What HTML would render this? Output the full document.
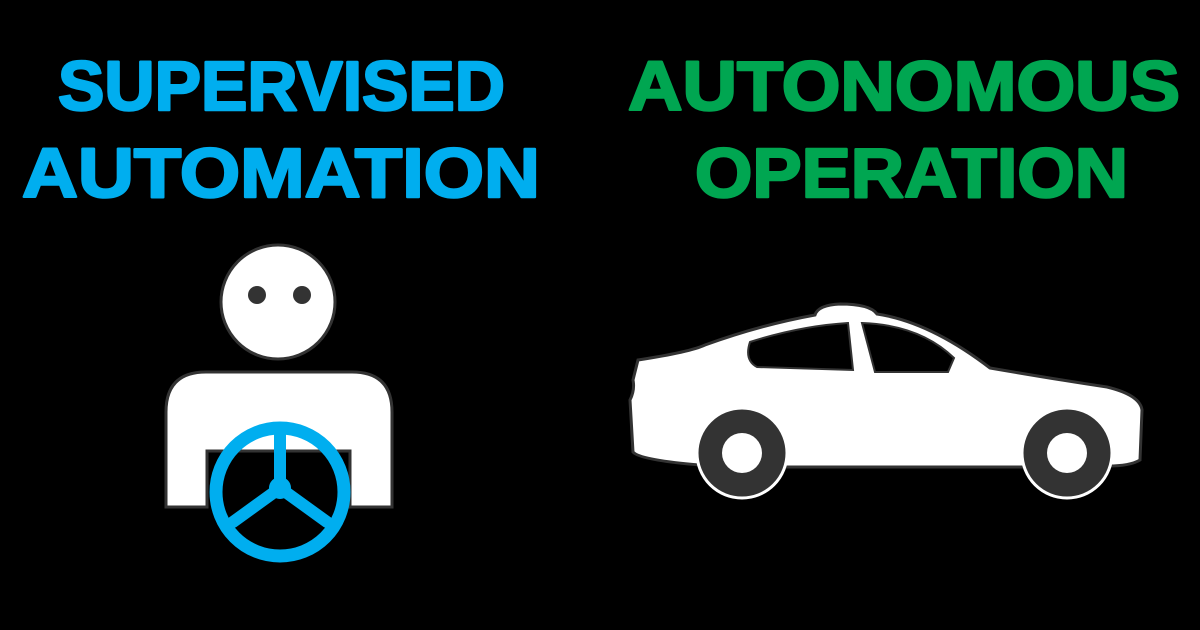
<!DOCTYPE html>
<html><head><style>html,body{margin:0;padding:0;background:#000;}svg{display:block}</style></head>
<body>
<svg width="1200" height="630" viewBox="0 0 1200 630" xmlns="http://www.w3.org/2000/svg">
<rect width="1200" height="630" fill="#000"/>
<g font-family="Liberation Sans, sans-serif" font-weight="bold" font-size="70" stroke-width="2.5" stroke-linejoin="round">
<text x="58" y="110" textLength="447" lengthAdjust="spacingAndGlyphs" fill="#00aeef" stroke="#00aeef">SUPERVISED</text>
<text x="22" y="197" textLength="518" lengthAdjust="spacingAndGlyphs" fill="#00aeef" stroke="#00aeef">AUTOMATION</text>
<text x="628" y="110" textLength="552" lengthAdjust="spacingAndGlyphs" fill="#00a651" stroke="#00a651">AUTONOMOUS</text>
<text x="695" y="197" textLength="433" lengthAdjust="spacingAndGlyphs" fill="#00a651" stroke="#00a651">OPERATION</text>
</g>
<!-- person -->
<circle cx="278" cy="302" r="57" fill="#fff" stroke="#333" stroke-width="3"/>
<circle cx="257" cy="295" r="9" fill="#333"/>
<circle cx="302" cy="295" r="9" fill="#333"/>
<path d="M166 507 V412 Q166 372 206 372 H352 Q392 372 392 412 V507 H350 V451 H207 V507 Z" fill="#fff" stroke="#333" stroke-width="3"/>
<g stroke="#00aeef" fill="none" stroke-linecap="round">
<circle cx="280" cy="492" r="64" stroke-width="13"/>
<line x1="280" y1="432" x2="280" y2="488" stroke-width="12"/>
<line x1="280" y1="488" x2="233" y2="522" stroke-width="12"/>
<line x1="280" y1="488" x2="327" y2="522" stroke-width="12"/>
</g>
<circle cx="280" cy="488" r="11" fill="#00aeef"/>
<!-- car -->
<path d="M638 360 Q690 352 705 345 Q760 325 815 315 Q818 305 840 304 Q870 304 877 314 Q930 322 990 368 Q1060 380 1107 387 Q1140 395 1142 410 L1140 460 Q1130 466 1108 466 L1028 467 L780 467 L700 465 Q640 460 633 452 L630 400 Q635 390 633 380 Z" fill="#fff" stroke="#333" stroke-width="3"/>
<path d="M750 342 Q800 326 848 323 L853 370 L757 367 Q744 360 750 342 Z" fill="#000" stroke="#333" stroke-width="2"/>
<path d="M862 323 Q920 325 954 358 L948 372 L875 372 Z" fill="#000" stroke="#333" stroke-width="2"/>
<circle cx="742" cy="453" r="45" fill="#333" stroke="#fff" stroke-width="3"/>
<circle cx="742" cy="453" r="20" fill="#fff"/>
<circle cx="1067" cy="453" r="45" fill="#333" stroke="#fff" stroke-width="3"/>
<circle cx="1067" cy="453" r="20" fill="#fff"/>
</svg>
</body></html>
